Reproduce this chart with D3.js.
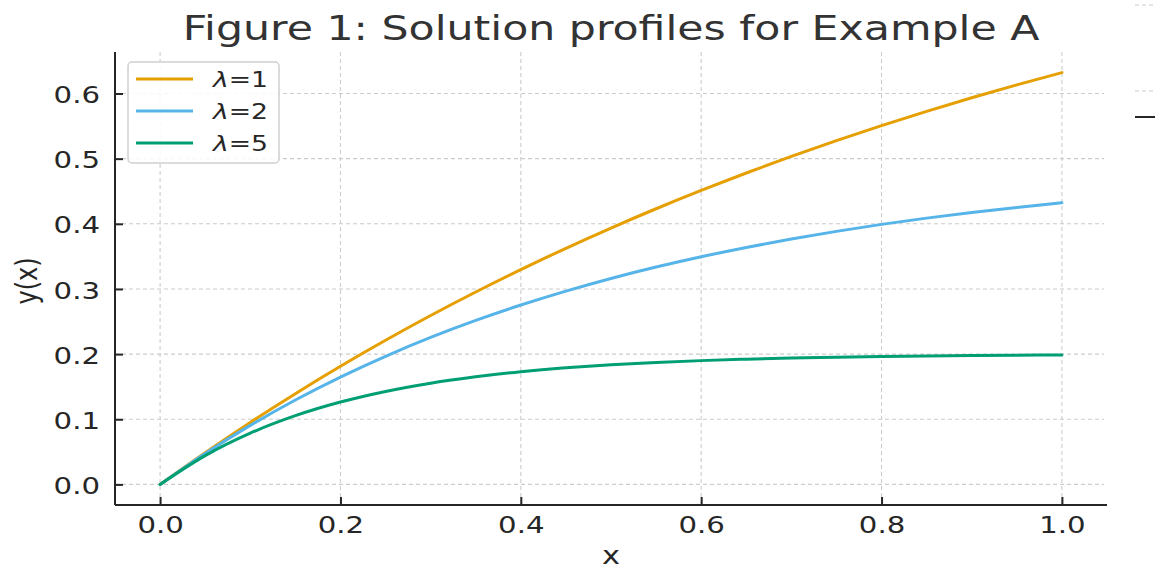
<!DOCTYPE html>
<html><head><meta charset="utf-8">
<script src="https://cdn.jsdelivr.net/npm/d3@7"></script>
<style>body{margin:0;background:#fff;} svg{display:block;font-family:"DejaVu Sans",sans-serif;}</style>
</head><body>
<svg id="c" width="1155" height="569"></svg>
<script>
const xValues = [0,0.05,0.1,0.15,0.2,0.25,0.3,0.35,0.4,0.45,0.5,0.55,0.6,0.65,0.7,0.75,0.8,0.85,0.9,0.95,1.0];
const lambda1 = [0,0.0488,0.0952,0.1393,0.1813,0.2212,0.2592,0.2953,0.3297,0.3624,0.3935,0.4231,0.4512,0.4780,0.5034,0.5276,0.5507,0.5726,0.5934,0.6133,0.6321];
const lambda2 = [0,0.0476,0.0906,0.1296,0.1648,0.1967,0.2256,0.2517,0.2753,0.2967,0.3161,0.3336,0.3494,0.3637,0.3767,0.3884,0.3991,0.4087,0.4174,0.4252,0.4323];
const lambda5 = [0,0.0442,0.0787,0.1055,0.1264,0.1427,0.1554,0.1652,0.1729,0.1789,0.1836,0.1872,0.1900,0.1922,0.1940,0.1953,0.1963,0.1971,0.1978,0.1983,0.1987];
const seriesNames = ["1","2","5"];
const seriesColors = ["#E69F00","#56B4E9","#009E73"];
const xTicks = [0,0.2,0.4,0.6,0.8,1.0];
const yTicks = [0,0.1,0.2,0.3,0.4,0.5,0.6];
const titleText = "Figure 1: Solution profiles for Example A";

const SX = 1.27;
const svg = d3.select("#c");
const L = 115, R = 1107, T = 52, B = 505;
const x = d3.scaleLinear().domain([-0.05, 1.05]).range([L, R]);
const y = d3.scaleLinear().domain([-0.0316, 0.6637]).range([B, T]);

// grid
const g = svg.append("g");
g.selectAll(".vg").data(xTicks).join("line")
  .attr("x1", d => x(d)).attr("x2", d => x(d)).attr("y1", T).attr("y2", B)
  .attr("stroke", "#cccccc").attr("stroke-width", 1.1).attr("stroke-dasharray", "4,3");
g.selectAll(".hg").data(yTicks).join("line")
  .attr("x1", L).attr("x2", R - 3).attr("y1", d => y(d)).attr("y2", d => y(d))
  .attr("stroke", "#cccccc").attr("stroke-width", 1.1).attr("stroke-dasharray", "4,3");

// lines
const allSeries = [lambda1, lambda2, lambda5];
const line = d3.line().x((d,i) => x(xValues[i])).y(d => y(d)).curve(d3.curveMonotoneX);
allSeries.forEach((s, k) => {
  svg.append("path").datum(s).attr("d", line).attr("fill", "none")
    .attr("stroke", seriesColors[k]).attr("stroke-width", 3).attr("stroke-linecap", "round");
});

// axes
const xAxis = svg.append("g").attr("transform", `translate(0,${B})`)
  .call(d3.axisBottom(x).tickValues(xTicks).tickFormat(d3.format(".1f")).tickSizeInner(-8).tickSizeOuter(0));
const yAxis = svg.append("g").attr("transform", `translate(${L},0)`)
  .call(d3.axisLeft(y).tickValues(yTicks).tickFormat(d3.format(".1f")).tickSizeInner(-8).tickSizeOuter(0));
[xAxis, yAxis].forEach(a => {
  a.select(".domain").attr("stroke", "#262626").attr("stroke-width", 2);
  a.selectAll(".tick line").attr("stroke", "#262626").attr("stroke-width", 2);
  a.selectAll(".tick text").attr("fill", "#262626").style("font-size", "23px")
    .style("font-family", "DejaVu Sans");
});
xAxis.select(".domain").attr("d", `M${L},0H${R}`);
yAxis.select(".domain").attr("d", `M0,${T}V${B}`);
xAxis.selectAll(".tick text").attr("y", 0).attr("dy", 0)
  .attr("transform", `translate(0,28) scale(${SX},1)`);
yAxis.selectAll(".tick text").attr("x", 0).attr("dy", "0.35em")
  .attr("transform", `translate(-15,1) scale(${SX},1)`);

function stext(px, py, str, size, color, anchor, rot) {
  return svg.append("text")
    .attr("transform", `translate(${px},${py}) scale(${SX},1)` + (rot ? ` rotate(${rot})` : ""))
    .attr("text-anchor", anchor).attr("fill", color)
    .style("font-size", size + "px").text(str);
}
stext((L + R) / 2, 40, titleText, 33.6, "#333333", "middle");
stext((L + R) / 2, 564, "x", 24, "#262626", "middle");
stext(37, 281, "y(x)", 24, "#262626", "middle", -90);

// legend
const lg = svg.append("g");
lg.append("rect").attr("x", 128).attr("y", 62).attr("width", 151).attr("height", 101)
  .attr("rx", 4).attr("fill", "rgba(255,255,255,0.85)").attr("stroke", "#d0d0d0").attr("stroke-width", 1.5);
seriesNames.forEach((n, k) => {
  const yy = 79 + k * 32;
  lg.append("line").attr("x1", 136).attr("x2", 193).attr("y1", yy).attr("y2", yy)
    .attr("stroke", seriesColors[k]).attr("stroke-width", 3);
  const t = lg.append("text").attr("transform", `translate(213,${yy + 8}) scale(${SX},1)`)
    .attr("fill", "#262626").style("font-size", "21px");
  t.append("tspan").style("font-style", "italic").text("λ");
  t.append("tspan").text("=" + n);
});

// right-edge fragments of a neighbouring panel
svg.append("line").attr("x1", 1135).attr("x2", 1155).attr("y1", 5).attr("y2", 5)
  .attr("stroke", "#cccccc").attr("stroke-width", 1.1).attr("stroke-dasharray", "4,3");
svg.append("line").attr("x1", 1135).attr("x2", 1155).attr("y1", 91).attr("y2", 91)
  .attr("stroke", "#cccccc").attr("stroke-width", 1.1).attr("stroke-dasharray", "4,3");
svg.append("line").attr("x1", 1135).attr("x2", 1155).attr("y1", 117).attr("y2", 117)
  .attr("stroke", "#262626").attr("stroke-width", 2);
</script>
</body></html>
